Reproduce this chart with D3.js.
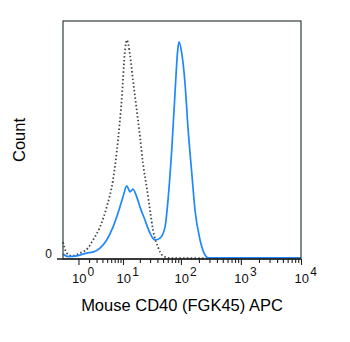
<!DOCTYPE html>
<html>
<head>
<meta charset="utf-8">
<script src="https://cdn.jsdelivr.net/npm/d3@7"></script>
<style>
  html, body { margin: 0; padding: 0; background: #fff; }
  svg { display: block; font-family: "Liberation Sans", Arial, sans-serif; }
</style>
</head>
<body>
<svg id="chart" width="350" height="342"></svg>
<script>
// Stained sample (solid blue) – fluorescence intensity vs. relative count
const stainedX = [0.107, 0.34, 0.87, 1.74, 2.49, 3.56, 4.89, 6.5, 8.09, 10.0, 11.7, 13.4, 15.1, 17.6, 20.1, 24.5, 29.9, 36.4, 44.4, 53.9, 60.6, 70.0, 79.5, 88.3, 92.8, 103, 117, 131, 152, 172, 209, 253, 284, 1000, 10000];
const stainedY = [2.1, 1.0, 1.3, 2.5, 2.9, 4.6, 8.0, 13.4, 19.3, 26.1, 30.7, 28.2, 29.4, 26.1, 21.8, 16.4, 10.9, 8.0, 8.8, 13.4, 24.8, 45.8, 69.7, 87.8, 91.2, 86.6, 73.9, 55.5, 36.1, 20.6, 8.0, 1.7, 0.5, 0.5, 0.5];

// Isotype control (dotted gray)
const controlX = [0.107, 0.275, 0.544, 1.12, 1.88, 2.49, 3.56, 4.89, 6.5, 8.09, 9.46, 10.9, 11.7, 13.4, 15.1, 17.6, 20.1, 22.6, 26.2, 29.9, 33.7, 41.0, 49.9, 65.5, 200, 1000, 10000];
const controlY = [7.1, 2.5, 1.3, 2.5, 4.6, 8.0, 13.4, 21.8, 33.2, 50.0, 66.8, 87.8, 92.0, 85.7, 75.2, 62.6, 51.3, 40.3, 30.3, 20.6, 12.2, 5.0, 1.3, 0.4, 0.4, 0.4, 0.4];

const decadeExponents = [0, 1, 2, 3, 4];
const minorMultipliers = [2, 3, 4, 5, 6, 7, 8, 9];
const yTickValues = [0];
const xTitle = "Mouse CD40 (FGK45) APC";
const yTitle = "Count";

const svg = d3.select("#chart");
const plotLeft = 63, plotRight = 301, plotTop = 21, plotBottom = 259;

const x = d3.scaleSymlog().constant(1).domain([0.107, 10000]).range([plotLeft, plotRight]);
const y = d3.scaleLinear().domain([0, 100]).range([plotBottom, plotTop]);

// Curves
const line = d3.line().x(d => x(d[0])).y(d => y(d[1])).curve(d3.curveMonotoneX);

svg.append("path")
  .datum(d3.zip(controlX, controlY))
  .attr("d", line)
  .attr("fill", "none")
  .attr("stroke", "#444")
  .attr("stroke-width", 1.8)
  .attr("stroke-dasharray", "1.5,2.3");

svg.append("path")
  .datum(d3.zip(stainedX, stainedY))
  .attr("d", line)
  .attr("fill", "none")
  .attr("stroke", "#1f87ff")
  .attr("stroke-width", 1.7);

// Frame
svg.append("rect")
  .attr("x", plotLeft).attr("y", plotTop)
  .attr("width", plotRight - plotLeft).attr("height", plotBottom - plotTop)
  .attr("fill", "none")
  .attr("stroke", "#2f3d3d")
  .attr("stroke-width", 1.2);

// X axis: major decade ticks and minor ticks
const majors = decadeExponents.map(e => Math.pow(10, e));
const minors = [];
decadeExponents.slice(0, -1).forEach(e => minorMultipliers.forEach(m => minors.push(m * Math.pow(10, e))));

const xAxisG = svg.append("g").attr("transform", `translate(0,${plotBottom})`);
xAxisG.call(d3.axisBottom(x).tickValues(minors).tickSize(4).tickFormat(""))
  .call(g => g.select(".domain").remove());
xAxisG.append("g").call(d3.axisBottom(x).tickValues(majors).tickSize(6).tickFormat(""))
  .call(g => g.select(".domain").remove());
xAxisG.selectAll(".tick line").attr("stroke", "#222").attr("stroke-width", 1.1);

// Axis baseline extends slightly left as the zero tick
svg.append("line")
  .attr("x1", 57).attr("x2", plotRight)
  .attr("y1", y(0)).attr("y2", y(0))
  .attr("stroke", "#222").attr("stroke-width", 1.3);

// Decade labels 10^n
const lbl = svg.append("g").selectAll("text").data(decadeExponents).join("text")
  .attr("x", e => x(Math.pow(10, e)) - 6.5)
  .attr("y", 283)
  .attr("font-size", 13)
  .attr("fill", "#111");
lbl.append("tspan").text("10");
lbl.append("tspan").attr("dx", 1.2).attr("dy", -7).attr("font-size", 12).text(e => e);

// Y tick label
svg.append("g").selectAll("text").data(yTickValues).join("text")
  .attr("x", 52).attr("y", d => y(d) - 1)
  .attr("text-anchor", "end")
  .attr("font-size", 12)
  .attr("fill", "#111")
  .text(d => d);

// Titles
svg.append("text")
  .attr("x", 182).attr("y", 311)
  .attr("text-anchor", "middle")
  .attr("font-size", 16.5)
  .attr("fill", "#000")
  .text(xTitle);

svg.append("text")
  .attr("transform", "translate(25,140) rotate(-90)")
  .attr("text-anchor", "middle")
  .attr("font-size", 16.5)
  .attr("fill", "#000")
  .text(yTitle);
</script>
</body>
</html>
